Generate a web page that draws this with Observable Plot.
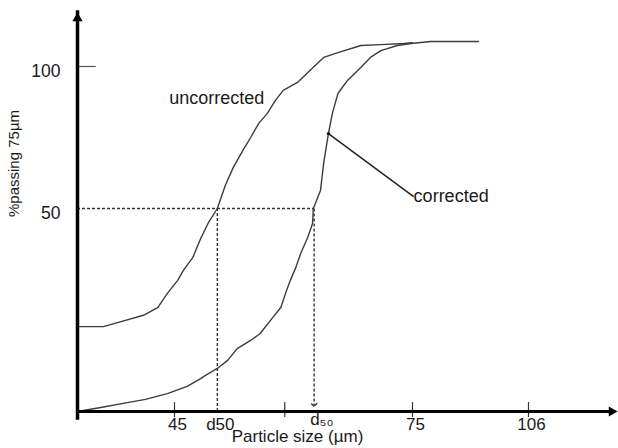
<!DOCTYPE html>
<html><head><meta charset="utf-8">
<script src="https://cdn.jsdelivr.net/npm/d3@7"></script>
<script src="https://cdn.jsdelivr.net/npm/@observablehq/plot@0.6"></script>
<style>
  html,body{margin:0;padding:0;background:#fff}
  svg{display:block}
</style>
</head><body><div id="chart"></div>
<script>
// ---- data (particle size in µm, percent passing) ----
const uncorrectedX = [30, 34.0, 36.2, 40.2, 42.4, 43.9, 45.4, 46.1, 47.3, 48.3, 49.3, 50.4, 51.4, 52.4, 53.6, 54.6, 55.6, 56.7, 57.7, 58.7, 60.5, 62.5, 63.8, 65.6, 68.5, 71.0, 73.9, 75.0];
const uncorrectedY = [20.9, 20.9, 21.9, 23.7, 25.6, 29.1, 32.3, 34.7, 37.9, 42.6, 46.6, 50.0, 58.1, 64.4, 70.4, 75.0, 79.9, 83.5, 88.0, 91.6, 94.4, 99.7, 103.2, 104.9, 107.4, 107.7, 108.1, 108.4];
const correctedX = [30, 33.6, 37.7, 40.5, 43.9, 46.6, 48.3, 48.9, 50.4, 51.7, 52.9, 54.6, 55.8, 57.4, 58.4, 59.0, 59.6, 60.3, 60.9, 61.8, 62.4, 62.5, 63.4, 63.8, 64.4, 64.9, 65.6, 66.8, 68.1, 69.7, 71.0, 73.1, 74.8, 79.8, 92.6];
const correctedY = [0, 1.0, 2.2, 3.0, 4.4, 6.2, 8.1, 8.9, 10.6, 12.6, 15.5, 17.5, 19.2, 23.2, 25.6, 29.1, 32.3, 35.5, 38.9, 42.9, 46.3, 50.0, 56.3, 65.9, 76.4, 83.5, 90.5, 95.1, 98.6, 103.2, 105.6, 107.4, 108.1, 108.8, 108.8];

const seriesNames = ["uncorrected", "corrected"];
const yTicks = [50, 100];
const yTickLabels = ["50", "100"];
const xTickValues = [45, 58.9, 75, 106];
const xLabelValues = [45, 50.4, 62.6, 75, 106];
const xLabels = ["45", "d50", "d\u2085\u2080", "75", "106"];
const level50 = 50;
const d50Uncorrected = 50.4;
const d50Corrected = 62.6;
const xAxisMin = 30, xAxisMax = 120, yAxisMin = 0, yAxisMax = 119;
const labelUncorrected = {x: 44.2, y: 88.9};
const labelCorrected = {x: 75.3, y: 54.2};
const pointerCorrected = {x: 64.4, y: 76.4};
const xTitle = "Particle size (\u00b5m)";
const yTitle = "%passing 75\u00b5m";

const toPts = (xs, ys) => xs.map((x, i) => ({x, y: ys[i]}));
const uncorrected = toPts(uncorrectedX, uncorrectedY);
const corrected = toPts(correctedX, correctedY);

const font = "'Liberation Sans', Arial, Helvetica, sans-serif";
const ink = "#1a1a1a";
const curveColor = "#3c3c3c";
const isSub = s => /[\u2080-\u2089]/.test(s);

const chart = Plot.plot({
  width: 618,
  height: 448,
  marginLeft: 77, marginRight: 1, marginTop: 12, marginBottom: 37,
  style: {fontFamily: font, background: "#fff", overflow: "visible"},
  x: {type: "linear", domain: [30, 45, 75, 106, 120], range: [77, 174, 412, 528, 617], axis: null},
  y: {type: "linear", domain: [0, 50, 100, 119], range: [411, 208, 66, 12], axis: null},
  marks: [
    // dashed guides
    Plot.ruleY([level50], {x1: xAxisMin, x2: d50Corrected, stroke: "#333", strokeWidth: 1.4, strokeDasharray: "3,2"}),
    Plot.ruleX([d50Uncorrected], {y1: yAxisMin, y2: level50, stroke: "#333", strokeWidth: 1.4, strokeDasharray: "3,2"}),
    Plot.link([0], {x1: d50Corrected, y1: level50, x2: d50Corrected, y2: 1.6, stroke: "#333", strokeWidth: 1.4, strokeDasharray: "3,2", markerEnd: "arrow"}),
    // curves
    Plot.line(uncorrected, {x: "x", y: "y", stroke: curveColor, strokeWidth: 1.4}),
    Plot.line(corrected, {x: "x", y: "y", stroke: curveColor, strokeWidth: 1.4}),
    // annotation pointer
    Plot.link([0], {x1: pointerCorrected.x, y1: pointerCorrected.y, x2: labelCorrected.x, y2: labelCorrected.y, stroke: "#222", strokeWidth: 1.5}),
    Plot.dot([0], {x: pointerCorrected.x, y: pointerCorrected.y, r: 1.6, fill: "#111"}),
    Plot.text([seriesNames[0]], {x: labelUncorrected.x, y: labelUncorrected.y, textAnchor: "start", lineAnchor: "middle", fontSize: 18, fill: ink}),
    Plot.text([seriesNames[1]], {x: labelCorrected.x, y: labelCorrected.y, textAnchor: "start", lineAnchor: "middle", fontSize: 18, fill: ink}),
    // ticks
    Plot.ruleY(yTicks.filter(v => v !== level50), {x1: xAxisMin, x2: 32.9, stroke: "#555", strokeWidth: 1.2}),
    Plot.ruleX(xTickValues, {y1: -1.5, y2: 2.2, stroke: "#333", strokeWidth: 1.2}),
    // tick labels
    Plot.text(yTicks, {y: d => d, text: (d, i) => yTickLabels[i], frameAnchor: "left", textAnchor: "end", dx: -17, dy: 5, fontSize: 17.5, fill: ink}),
    Plot.text(xLabelValues.filter((d, i) => !isSub(xLabels[i])), {x: d => d, text: d => xLabels[xLabelValues.indexOf(d)], frameAnchor: "bottom", dy: 18, dx: 3, fontSize: 17, fill: ink}),
    Plot.text(xLabelValues.filter((d, i) => isSub(xLabels[i])), {x: d => d, text: d => xLabels[xLabelValues.indexOf(d)], frameAnchor: "bottom", textAnchor: "start", dy: 13, dx: -4, fontSize: 17, fill: ink}),
    // axis titles
    Plot.text([xTitle], {frameAnchor: "bottom", dx: -50, dy: 30.5, fontSize: 17, fill: ink}),
    Plot.text([yTitle], {frameAnchor: "left", textAnchor: "middle", dx: -63.5, dy: -48.5, rotate: -90, fontSize: 15, fill: ink}),
    // axes with arrows
    Plot.ruleY([yAxisMin], {x1: xAxisMin, x2: xAxisMax, insetRight: 7, stroke: "#000", strokeWidth: 3}),
    Plot.ruleX([xAxisMin], {y1: yAxisMin, y2: yAxisMax, insetTop: 7, stroke: "#000", strokeWidth: 3.5, strokeLinecap: "square"}),
    Plot.dot([0], {x: xAxisMax, y: yAxisMin, symbol: "triangle", r: 3.8, fill: "#000", rotate: 90, dx: -5.8}),
    Plot.dot([0], {x: xAxisMin, y: yAxisMax, symbol: "triangle", r: 3.8, fill: "#000", dy: 5.8})
  ]
});
document.getElementById("chart").appendChild(chart);
</script>
</body></html>
